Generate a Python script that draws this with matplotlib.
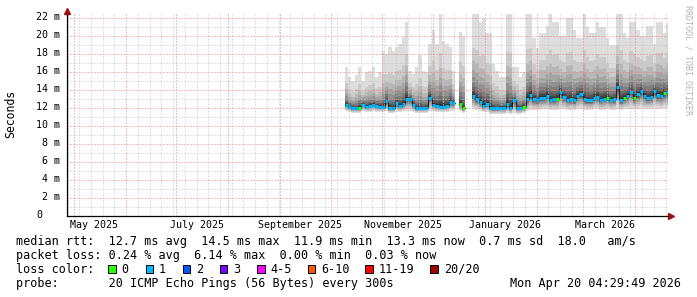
import numpy as np
import pandas as pd
import matplotlib
matplotlib.use("Agg")
import matplotlib.pyplot as plt
import matplotlib.dates as mdates
from matplotlib.patches import Rectangle
from matplotlib.transforms import ScaledTranslation

# ============================================================
# DATA (2-day steps)
# ============================================================
END = pd.Timestamp("2026-04-20 04:29:49")
SPAN_DAYS = 358.5
STEP_DAYS = 2
nan = np.nan

SEG1_START = "2025-10-09 12:00"
SEG1_MEDIAN = [12.3, 12.1, 11.9, 11.9, 11.95, 12.3, 12.1, 12.2, 12.3, 12.2, 12.1, 12.1,
               12.7, 11.9, 11.9, 12.5, 12.2, 12.4, 13.0, 12.9, 12.3, 11.9, 11.9, 11.9,
               12.0, 13.1, 12.3, 12.2, 12.1, 12.1, 12.2, 12.6, 12.5, nan, 12.4, 11.9]
SEG1_LOW = [11.6, 11.5, 11.4, 11.4, 11.4, 11.6, 11.5, 11.5, 11.6, 11.5, 11.5, 11.5,
            11.6, 11.4, 11.4, 11.5, 11.5, 11.6, 11.6, 11.6, 11.5, 11.4, 11.4, 11.4,
            11.4, 11.6, 11.6, 11.5, 11.5, 11.5, 11.5, 11.6, 11.6, nan, 11.6, 11.4]
SEG1_HIGH = [16.5, 15.4, 15.0, 15.6, 16.5, 15.0, 15.9, 16.1, 16.5, 15.4, 15.9, 18.3,
             17.9, 18.7, 18.3, 18.7, 19.1, 19.8, 21.5, 16.1, 15.7, 16.5, 17.8, 16.1,
             15.9, 19.1, 20.6, 19.1, 22.4, 19.4, 19.1, 18.7, 16.1, nan, 20.4, 20.0]
SEG1_LOSS = [1, 1, 1, 1, 0, 1, 1, 1, 1, 1, 1, 1,
             1, 1, 1, 1, 1, 1, 1, 1, 1, 1, 1, 1,
             1, 1, 1, 1, 1, 1, 1, 1, 1, 1, 0, 0]

SEG2_START = "2025-12-24 12:00"
SEG2_MEDIAN = [13.3, 12.9, 12.6, 12.2, 12.4, 11.95, 11.9, 11.9, 11.95, 11.95, 12.4, 12.0,
               12.8, 11.9, 11.95, 12.1, 13.0, 13.4, 12.9, 12.8, 13.1, 13.1, 13.3, 12.85,
               12.9, 13.0, 13.7, 13.15, 12.85, 12.9, 12.8, 13.3, 13.5, 12.95, 12.8, 12.8,
               13.1, 13.15, 12.85, 13.0, 13.1, 12.85, 12.9, 14.3, 12.8, 13.1, 13.3, 13.7,
               13.1, 13.5, 13.8, 13.3, 13.1, 13.2, 13.8, 13.4, 13.3, 13.6, 13.7]
SEG2_LOW = [11.8, 11.7, 11.6, 11.5, 11.5, 11.3, 11.3, 11.3, 11.3, 11.3, 11.4, 11.3,
            11.4, 11.3, 11.3, 11.4, 11.6, 11.7, 11.7, 11.7, 11.7, 11.8, 11.8, 11.7,
            11.7, 11.7, 11.8, 11.8, 11.7, 11.7, 11.7, 11.8, 11.8, 11.7, 11.7, 11.7,
            11.8, 11.8, 11.7, 11.7, 11.8, 11.7, 11.7, 11.8, 11.7, 11.8, 11.8, 11.8,
            11.8, 11.8, 11.9, 11.8, 11.8, 11.8, 11.9, 11.8, 11.8, 11.9, 11.9]
SEG2_HIGH = [22.4, 22.4, 21.5, 22.0, 20.3, 20.3, 16.8, 16.1, 15.4, 15.4, 22.4, 22.4,
             16.5, 16.5, 15.4, 15.9, 22.4, 22.4, 19.7, 18.6, 20.3, 20.3, 21.1, 22.4,
             21.5, 21.5, 19.9, 19.9, 21.9, 21.9, 20.6, 19.7, 19.7, 22.4, 21.0, 20.3,
             20.3, 21.5, 21.0, 21.0, 19.7, 18.9, 18.9, 22.4, 22.4, 20.3, 19.7, 21.5,
             21.5, 20.6, 19.9, 19.9, 21.1, 21.1, 19.1, 21.5, 21.5, 20.3, 21.4]
SEG2_LOSS = [1] * 59
for k in (15, 25, 40, 45, 48, 57):
    SEG2_LOSS[k] = 0

Y_TICKS = list(range(2, 23, 2))
Y_LABELS = [f"{v} m" for v in Y_TICKS]
X_LABELS = ["May 2025", "July 2025", "September 2025", "November 2025",
            "January 2026", "March 2026"]
X_LABEL_DATES = ["2025-05-13", "2025-07-13", "2025-09-13", "2025-11-13",
                 "2026-01-13", "2026-03-14"]

LOSS_COLORS = {0: "#26ff00", 1: "#00b8ff"}
LEGEND_LOSS = ["0", "1", "2", "3", "4-5", "6-10", "11-19", "20/20"]
LEGEND_COLORS = ["#26ff00", "#00b8ff", "#0059ff", "#7e00ff", "#ff00ff",
                 "#ff5500", "#ff0000", "#a10000"]

# ============================================================
# STYLE
# ============================================================
W, H, DPI = 697, 297, 100
GRID = "#c4c4c4"
MGRID = "#ee8080"
ARROW = "#a01010"
SMOKE = ["#%02x%02x%02x" % ((int(190 / 10 * (10 - i)) + 50,) * 3) for i in range(1, 11)]
UP_FRAC = [1.0, 0.58, 0.42, 0.31, 0.23, 0.16, 0.11, 0.075, 0.05, 0.025]
DN_FRAC = [1.0, 0.8, 0.65, 0.52, 0.42, 0.33, 0.25, 0.17, 0.1, 0.05]

plt.rcParams["font.family"] = "DejaVu Sans Mono"

fig = plt.figure(figsize=(W / DPI, H / DPI), dpi=DPI)
ax = fig.add_axes([67 / W, (H - 215.5) / H, 600.5 / W, (215.5 - 13.9) / H])

x_end = mdates.date2num(END)
x_start = mdates.date2num(END - pd.Timedelta(days=SPAN_DAYS))
ax.set_xlim(x_start, x_end)
ax.set_ylim(0, 22.4)
ax.set_xticks([])
ax.set_yticks([])


def draw_segment(start, med, lo, hi, loss):
    t = mdates.date2num(pd.date_range(start, periods=len(med), freq=f"{STEP_DAYS}D"))
    med = np.array(med, float)
    lo = np.array(lo, float)
    hi = np.array(hi, float)
    ok = ~np.isnan(med)
    for i in range(10):
        top = med + (hi - med) * UP_FRAC[i]
        bot = med - (med - lo) * DN_FRAC[i]
        ax.bar(t[ok], (top - bot)[ok], bottom=bot[ok], width=STEP_DAYS, align="edge",
               color=SMOKE[i], linewidth=0, antialiased=False, zorder=1)
    ax.step(np.append(t, t[-1] + STEP_DAYS), np.append(med, med[-1]), where="post",
            color="#202020", lw=0.8, zorder=3)
    cols = [LOSS_COLORS[l] for l in loss]
    ax.hlines(med, t, t + STEP_DAYS, colors=cols, lw=2.2, zorder=4)


draw_segment(SEG1_START, SEG1_MEDIAN, SEG1_LOW, SEG1_HIGH, SEG1_LOSS)
draw_segment(SEG2_START, SEG2_MEDIAN, SEG2_LOW, SEG2_HIGH, SEG2_LOSS)

# grid: weekly (sundays) / monthly, 1 ms / 2 ms
grid_kw = dict(lw=0.72, ls=(0, (1, 2)), snap=True, zorder=2)
months = pd.date_range("2025-05-01", "2026-04-01", freq="MS")
for d in pd.date_range("2025-04-06", "2026-05-01", freq="W-SUN"):
    if d not in months:
        ax.axvline(mdates.date2num(d), color=GRID, **grid_kw)
for d in months:
    ax.axvline(mdates.date2num(d), color=MGRID, **grid_kw)
for v in range(1, 23):
    ax.axhline(v, color=MGRID if v % 2 == 0 else GRID, **grid_kw)

for s in ("top", "right"):
    ax.spines[s].set_visible(False)
for s in ("left", "bottom"):
    ax.spines[s].set_color("black")
    ax.spines[s].set_linewidth(0.9)

up = ax.transAxes + ScaledTranslation(0, 3 / DPI, fig.dpi_scale_trans)
right = ax.transAxes + ScaledTranslation(3 / DPI, 0, fig.dpi_scale_trans)
ax.plot([0], [1], marker="^", ms=5, color=ARROW, transform=up, clip_on=False)
ax.plot([1], [0], marker=">", ms=5, color=ARROW, transform=right, clip_on=False)

# tick labels
ylab_tr = ax.get_yaxis_transform() + ScaledTranslation(-7 / DPI, 0, fig.dpi_scale_trans)
for v, lab in zip(Y_TICKS, Y_LABELS):
    ax.text(0, v, lab, transform=ylab_tr, ha="right", va="center", fontsize=7.2)
zero_tr = ax.get_yaxis_transform() + ScaledTranslation(-30.3 / DPI, 0, fig.dpi_scale_trans)
ax.text(0, 0, "0", transform=zero_tr, ha="left", va="center", fontsize=7.2)

xlab_tr = ax.get_xaxis_transform() + ScaledTranslation(0, -12.8 / DPI, fig.dpi_scale_trans)
for d, lab in zip(X_LABEL_DATES, X_LABELS):
    ax.text(mdates.date2num(pd.Timestamp(d)), 0, lab, transform=xlab_tr,
            ha="center", va="baseline", fontsize=7.2)

fig.text(10.8 / W, 1 - 114 / H, "Seconds", rotation=90, ha="center", va="center",
         fontsize=8.3)
fig.text(688.3 / W, 1 - 60 / H, "RRDTOOL / TOBI OETIKER", rotation=270,
         ha="center", va="center", fontsize=6, color="#b4b4b4")

# legend block
def ftext(x, y, s, **kw):
    fig.text(x / W, 1 - y / H, s, va="baseline", fontsize=8.5, **kw)

ftext(16, 245.5, "median rtt:  12.7 ms avg  14.5 ms max  11.9 ms min  13.3 ms now  0.7 ms sd  18.0   am/s")
ftext(16, 259.3, "packet loss: 0.24 % avg  6.14 % max  0.00 % min  0.03 % now")
ftext(16, 273.0, "loss color:")
ftext(16, 286.8, "probe:       20 ICMP Echo Pings (56 Bytes) every 300s")
ftext(510.5, 286.8, "Mon Apr 20 04:29:49 2026")

box_x = [108.3, 145.7, 182.7, 220.0, 257.3, 307.7, 365.0, 430.0]
text_x = [121.7, 159.0, 196.0, 233.3, 270.7, 321.0, 378.3, 444.0]
for bx, tx, lab, col in zip(box_x, text_x, LEGEND_LOSS, LEGEND_COLORS):
    fig.add_artist(Rectangle((bx / W, 1 - 272.5 / H), 7.5 / W, 7.5 / H,
                             transform=fig.transFigure, facecolor=col,
                             edgecolor="black", linewidth=0.7))
    ftext(tx, 273.0, lab)

fig.savefig("out.png", dpi=DPI)
